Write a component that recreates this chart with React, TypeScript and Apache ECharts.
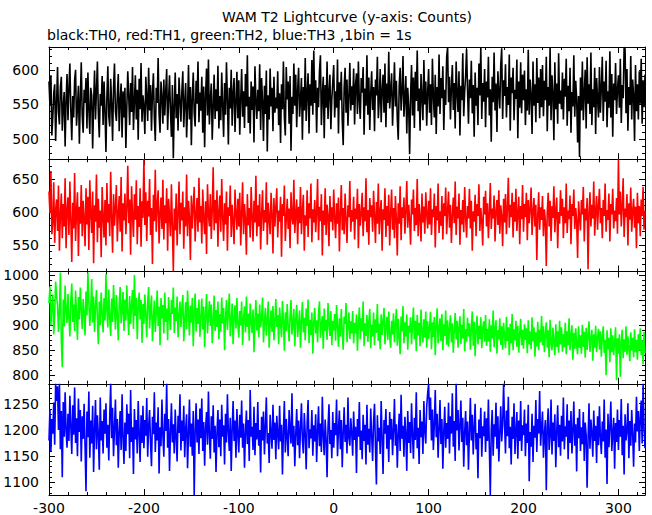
import React, { useEffect, useRef } from "react";
import * as echarts from "echarts";

// ---- data (counts per 1 s bin, starting at t = -300 s) ----
const T0 = -300;
const BIN = 1;

const th0Black = [
583,548,592,505,531,566,579,497,552,604,538,521,575,590,512,547,568,489,556,594,
527,573,609,541,498,562,531,585,600,519,546,577,493,558,611,534,509,571,552,588,
515,596,543,507,574,563,486,551,599,528,570,612,537,502,565,548,591,520,583,541,
481,560,605,533,518,587,552,497,574,609,540,526,563,594,511,556,580,502,569,531,
574,487,546,598,562,520,581,539,604,513,555,592,528,571,499,587,543,610,525,563,
548,507,590,559,526,603,541,578,512,566,595,531,497,574,552,617,536,509,583,561,
522,586,534,569,601,513,557,592,540,503,578,472,548,596,530,565,512,589,557,525,
569,598,517,553,581,502,544,607,528,575,491,560,596,537,518,584,551,612,524,567,
541,590,509,576,488,563,602,534,615,521,557,580,499,546,593,529,572,540,606,515,
562,527,596,548,503,581,535,611,557,492,574,544,600,519,566,588,510,553,597,530,
585,506,557,601,532,569,516,594,547,621,523,561,508,583,542,576,495,605,556,529,
571,540,608,513,588,555,497,577,536,599,482,563,528,602,547,574,511,590,538,560,
544,598,520,566,494,579,543,612,531,505,604,557,583,522,591,483,561,536,609,548,
593,517,570,603,532,556,588,499,575,541,617,526,566,595,508,579,548,614,535,628,
552,585,509,574,546,598,621,520,563,590,501,578,545,612,529,567,593,514,558,582,
607,531,569,545,615,508,582,556,597,527,491,574,603,538,586,519,562,610,541,576,
549,602,521,578,595,536,612,554,529,588,567,604,506,573,548,621,535,589,513,566,
598,542,575,511,586,563,619,530,557,601,524,571,593,538,609,517,580,552,626,544,
570,595,519,562,611,547,584,529,499,576,603,541,568,620,532,557,591,508,574,546,
478,563,607,534,589,516,597,555,628,540,573,512,594,561,527,614,550,583,519,568,
601,538,579,520,616,562,531,593,507,575,547,622,536,588,559,605,513,571,549,618,
633,553,590,528,574,607,542,581,515,612,566,539,598,505,577,556,624,533,569,591,
630,571,522,586,559,613,537,578,503,596,548,574,520,609,563,632,529,581,554,601,
517,583,560,619,534,572,496,590,553,625,541,580,510,598,566,544,607,631,529,585,
562,608,531,575,549,622,512,589,566,603,527,571,558,615,501,583,545,611,537,593,
556,599,520,572,541,629,535,586,563,507,612,548,579,524,617,552,589,530,601,546,
607,533,584,556,619,511,575,548,633,527,592,566,498,611,543,580,522,624,551,570,
543,596,528,587,561,616,519,577,540,603,509,568,547,621,532,584,558,495,562,474,
589,541,612,527,566,600,515,618,551,579,536,625,520,572,546,603,507,588,559,531,
604,538,574,619,526,583,554,613,517,569,545,627,531,594,503,580,556,610,536,571,
592,545,616,523,578,559,633,630,537,601,512,575,549,620,528,586,563,497,607,540,
579,528,598,551,616,522,585,546,593
];

const th1Red = [
631,598,662,566,584,645,553,603,619,571,640,541,596,628,560,612,578,651,545,604,
622,565,646,589,524,614,575,659,556,601,630,533,608,582,641,563,617,590,548,636,
581,623,542,648,596,568,631,522,610,585,657,554,620,576,602,531,638,593,561,618,
549,644,584,612,563,661,592,538,627,579,606,641,555,597,624,570,653,540,613,587,
628,566,607,670,583,619,535,639,595,562,627,588,648,551,609,577,636,547,616,591,
680,580,630,556,617,593,650,565,606,521,626,586,664,570,611,633,552,597,622,574,
649,558,610,583,636,541,620,594,563,642,579,510,605,572,628,549,598,646,566,614,
587,631,544,607,578,657,563,617,591,527,625,575,608,638,555,596,621,570,652,584,
609,552,634,590,566,616,536,642,597,578,627,559,603,668,572,618,583,633,547,601,
625,570,650,592,556,613,581,631,541,607,594,640,562,611,585,551,634,598,573,620,
578,629,549,598,645,566,612,588,535,627,580,606,561,638,593,555,617,584,655,563,
610,578,627,543,596,633,571,603,584,645,550,614,591,566,629,598,537,621,578,607,
636,561,602,585,623,532,612,594,640,556,590,620,574,605,545,630,592,581,649,568,
598,619,551,608,583,638,566,601,626,541,595,579,633,562,613,590,643,554,604,584,
618,569,599,650,557,608,586,627,534,602,580,636,565,611,594,548,624,585,607,572,
634,591,560,613,582,622,540,598,641,572,606,566,628,589,553,610,592,647,570,603,
585,623,558,605,589,635,545,612,579,598,629,563,607,586,651,569,603,550,621,592,
610,570,632,595,553,615,582,643,566,600,618,541,604,588,636,562,609,579,626,549,
598,634,573,606,560,624,590,534,613,582,639,557,607,591,622,567,601,647,576,611,
588,550,619,596,634,571,606,580,650,563,612,593,555,628,584,608,567,630,597,575,
617,581,636,565,604,592,628,546,609,587,643,568,601,579,624,558,613,594,637,566,
602,631,576,611,553,595,622,583,646,565,608,590,628,550,603,581,618,569,638,593,
561,609,590,635,575,617,541,601,585,626,563,612,594,642,571,606,587,549,623,596,
632,578,613,560,598,644,574,605,590,625,555,600,618,580,633,567,610,594,548,620,
584,627,566,606,652,576,611,592,629,561,615,585,635,571,598,623,551,609,589,641,
570,612,592,629,557,618,583,605,637,565,600,621,578,611,527,595,630,573,607,588,
624,563,604,586,518,599,629,578,617,556,609,591,639,569,602,622,545,600,582,633,
594,620,560,607,583,643,568,602,589,625,551,612,594,634,574,606,586,530,616,592,
572,618,596,638,555,605,587,621,513,599,630,578,611,590,646,564,601,624,573,609,
635,583,606,560,618,594,643,570,603,588,628,555,612,596,635,575,602,586,621,567,
680,596,631,578,609,651,562,605,592,627,549,613,588,637,570,601,620,576,608,545,
629,583,609,563,619,594,638,573,602
];

const th2Green = [
945,978,900,936,962,882,925,988,958,941,887,930,1006,870,816,952,898,980,929,905,
963,915,878,950,984,907,942,889,970,922,871,957,912,976,932,893,953,924,880,968,
920,1006,947,899,935,993,906,958,887,939,971,914,862,948,901,966,925,886,955,910,
1003,930,896,972,915,879,954,907,981,934,892,961,921,870,945,977,904,928,967,889,
952,910,980,924,881,959,903,941,971,893,1001,919,955,872,936,966,912,951,865,943,
903,962,920,876,948,977,894,931,960,868,912,950,887,925,970,899,938,860,955,914,
941,884,966,907,934,870,957,916,891,951,923,976,885,936,909,958,876,920,948,897,
932,961,868,910,947,893,970,921,880,940,906,955,858,922,964,888,935,903,952,877,
915,954,892,938,856,924,963,884,918,949,899,942,864,909,960,889,931,897,948,872,
922,888,956,904,935,850,914,951,891,926,964,878,908,944,862,916,940,894,955,902,
876,929,900,948,860,912,938,886,958,897,924,869,944,906,885,932,846,911,951,890,
923,876,942,896,914,956,866,905,935,880,913,948,855,901,930,887,939,870,909,953,
897,921,862,936,905,876,949,909,849,926,889,943,900,868,917,951,882,904,933,858,
913,941,877,902,930,855,908,947,886,915,870,934,899,952,864,911,881,926,843,906,
935,884,910,866,924,948,875,901,919,853,934,889,911,871,945,903,879,929,860,909,
890,923,869,941,899,857,914,878,933,889,851,918,903,945,866,897,926,873,908,884,
929,864,905,884,922,849,900,936,872,914,888,948,858,904,879,921,867,907,933,854,
901,878,926,860,912,885,943,869,903,852,922,881,908,935,862,897,917,871,928,879,
855,909,882,924,866,902,933,859,913,877,842,918,888,939,864,906,878,922,851,899,
886,916,862,901,936,872,909,848,921,880,905,858,932,887,866,912,876,928,855,908,
873,895,927,852,906,877,917,840,899,934,864,893,914,869,923,850,902,879,930,861,
910,857,894,920,866,904,845,890,925,872,909,855,896,918,863,901,874,933,848,892,
868,915,878,904,851,896,928,859,907,838,890,919,862,899,873,916,854,894,908,867,
921,859,893,868,912,847,900,874,930,856,895,910,843,890,872,914,861,898,851,905,
879,854,917,869,896,840,903,864,923,850,892,870,909,857,899,845,884,913,860,891,
853,902,871,894,844,910,862,888,852,916,868,896,837,886,858,907,850,891,866,919,
860,898,846,883,906,855,890,836,911,864,850,895,869,840,902,857,888,845,909,862,
896,847,882,856,905,842,888,860,914,850,878,900,831,885,853,894,860,842,898,855,
880,843,901,857,887,835,895,851,878,908,847,874,891,829,882,855,899,846,876,893,
851,888,837,877,898,845,871,800,890,852,875,826,894,846,880,840,868,896,790,874,
843,882,797,868,891,834,872,847,898,841,878,852,828,886,850,875,836,892,846,871,
831,882,849,894,840,870,822,887,844
];

const th3Blue = [
1180,1240,1160,1221,1193,1252,1172,1288,1255,1283,1200,1288,1163,1236,1110,1253,1187,1272,1198,1166,
1231,1179,1265,1206,1154,1247,1191,1281,1175,1222,1150,1260,1196,1238,1140,1226,1183,1250,1168,1083,
1235,1186,1273,1147,1218,1174,1246,1120,1201,1257,1163,1228,1190,1124,1262,1180,1217,1155,1239,1193,
1251,1166,1210,1142,1226,1288,1184,1242,1150,1203,1258,1171,1221,1128,1196,1236,1162,1268,1187,1135,
1214,1160,1249,1192,1231,1146,1276,1177,1205,1116,1240,1182,1219,1155,1255,1194,1139,1228,1175,1246,
1165,1219,1189,1261,1149,1207,1238,1174,1131,1225,1192,1272,1158,1214,1180,1243,1117,1205,1169,1258,
1190,1149,1231,1198,1288,1166,1221,1122,1195,1251,1176,1211,1155,1239,1186,1140,1227,1194,1268,1161,
1218,1179,1246,1148,1202,1230,1127,1193,1258,1168,1212,1151,1236,1076,1196,1251,1176,1220,1154,1241,
1184,1260,1160,1215,1132,1203,1234,1172,1273,1190,1145,1226,1183,1247,1157,1208,1120,1195,1238,1167,
1220,1150,1248,1187,1209,1134,1231,1176,1268,1196,1160,1223,1122,1201,1255,1179,1218,1147,1240,1191,
1157,1229,1185,1256,1166,1212,1128,1195,1237,1173,1219,1141,1276,1187,1206,1162,1244,1152,1213,1182,
1253,1170,1200,1119,1225,1180,1235,1153,1205,1262,1174,1194,1137,1229,1193,1164,1248,1181,1214,1144,
1227,1193,1163,1246,1178,1210,1115,1199,1255,1157,1221,1187,1150,1238,1200,1174,1270,1168,1208,1131,
1192,1240,1171,1218,1146,1204,1251,1180,1155,1232,1193,1125,1213,1257,1165,1201,1184,1238,1151,1209,
1178,1230,1139,1196,1245,1169,1212,1158,1263,1188,1152,1220,1182,1110,1205,1249,1173,1200,1146,1234,
1166,1213,1190,1258,1150,1201,1237,1163,1219,1129,1195,1243,1177,1210,1155,1262,1185,1170,1222,1194,
1151,1235,1181,1206,1118,1221,1187,1253,1162,1199,1144,1229,1179,1210,1134,1248,1172,1202,1157,1241,
1189,1141,1217,1250,1165,1096,1228,1178,1204,1154,1255,1184,1116,1219,1193,1240,1164,1209,1139,1234,
1182,1221,1152,1199,1259,1170,1211,1128,1192,1231,1160,1267,1183,1208,1149,1225,1193,1122,1236,1175,
1215,1156,1251,1191,1145,1223,1181,1272,1165,1204,1135,1238,1186,1216,1154,1255,1197,1174,1245,1270,
1288,1219,1262,1180,1239,1162,1210,1276,1186,1231,1147,1203,1257,1173,1221,1126,1197,1244,1166,1213,
1183,1252,1155,1226,1193,1270,1168,1217,1141,1288,1199,1238,1161,1208,1256,1177,1223,1130,1195,1236,
1171,1216,1124,1197,1261,1180,1229,1153,1205,1250,1163,1194,1108,1220,1184,1242,1149,1207,1188,1235,
1158,1222,1179,1258,1167,1076,1201,1238,1151,1211,1187,1252,1164,1226,1140,1195,1245,1178,1209,1288,
1216,1155,1237,1188,1263,1165,1206,1134,1225,1183,1251,1154,1198,1234,1145,1218,1179,1255,1160,1209,
1190,1239,1150,1212,1175,1248,1102,1196,1168,1231,1139,1208,1185,1257,1158,1221,1193,1274,1170,1203,
1235,1147,1192,1219,1085,1206,1241,1162,1188,1258,1153,1214,1179,1230,1129,1197,1247,1167,1210,1151,
1227,1178,1262,1163,1207,1187,1249,1144,1218,1175,1236,1155,1198,1254,1170,1211,1121,1223,1184,1240,
1160,1205,1173,1234,1141,1214,1190,1090,1182,1251,1164,1220,1195,1149,1237,1179,1208,1137,1226,1171,
1245,1186,1154,1216,1178,1258,1147,1201,1097,1231,1167,1206,1254,1160,1192,1223,1126,1213,1177,1239,
1162,1219,1187,1259,1152,1208,1115,1230,1180,1198,1251,1146,1217,1170,1238,1193,1130,1212,1176,1263,
1197,1236,1160,1222,1256,1174,1288,1205,1165
];

// ---- axes ----
const X_MIN = -300;
const X_MAX = 328;
const xMajorTicks = [-300, -200, -100, 0, 100, 200, 300];
const xMinorTicks = [
  -300, -280, -260, -240, -220, -200, -180, -160, -140, -120, -100, -80, -60, -40, -20,
  0, 20, 40, 60, 80, 100, 120, 140, 160, 180, 200, 220, 240, 260, 280, 300, 320,
];

const yMins = [470.6, 509.5, 783, 1076];
const yMaxs = [633, 680, 1008, 1288];
const yMajorTicks = [
  [500, 550, 600],
  [550, 600, 650],
  [800, 850, 900, 950, 1000],
  [1100, 1150, 1200, 1250],
];
const yMinorStep = 10;

const seriesNames = ["TH0", "TH1", "TH2", "TH3"];
const seriesColors = ["#000000", "#ff0000", "#00ff00", "#0000ff"];
const seriesData = [th0Black, th1Red, th2Green, th3Blue];

const titleText = "WAM T2 Lightcurve (y-axis: Counts)";
const subtitleText = "black:TH0, red:TH1, green:TH2, blue:TH3 ,1bin = 1s";

const FONT = "DejaVu Sans";

function minorList(min: number, max: number, step: number) {
  const out: number[] = [];
  for (let v = Math.ceil(min / step) * step; v <= max; v += step) out.push(v);
  return out;
}

export default function App() {
  const ref = useRef<HTMLDivElement>(null);

  useEffect(() => {
    if (!ref.current) return;
    const chart = echarts.init(ref.current, null, { renderer: "svg" });

    const W = 652;
    const left = 49;
    const right = 7;
    const top0 = 47;
    const panelH = 112.25;

    const grids: any[] = [];
    const xAxes: any[] = [];
    const yAxes: any[] = [];
    const series: any[] = [];

    const lineStyle = { color: "#000", width: 1 };
    const plain = (v: number) => String(v);

    for (let g = 0; g < 4; g++) {
      grids.push({ left, right, top: top0 + g * panelH, height: panelH, containLabel: false });

      const xBase = {
        gridIndex: g,
        type: "value",
        min: X_MIN,
        max: X_MAX,
        splitLine: { show: false },
        axisPointer: { show: false },
      };
      xAxes.push({
        ...xBase,
        position: "bottom",
        axisLine: { show: true, onZero: false, lineStyle },
        axisTick: { show: true, inside: true, length: 6, customValues: xMajorTicks, lineStyle },
        axisLabel: {
          show: g === 3,
          customValues: xMajorTicks,
          formatter: plain,
          color: "#000",
          fontFamily: FONT,
          fontSize: 14,
          margin: 6,
        },
      });
      xAxes.push({
        ...xBase,
        position: "bottom",
        axisLine: { show: false, onZero: false },
        axisTick: { show: true, inside: true, length: 3, customValues: xMinorTicks, lineStyle },
        axisLabel: { show: false },
      });
      xAxes.push({
        ...xBase,
        position: "top",
        axisLine: { show: true, onZero: false, lineStyle },
        axisTick: { show: true, inside: true, length: 6, customValues: xMajorTicks, lineStyle },
        axisLabel: { show: false },
      });
      xAxes.push({
        ...xBase,
        position: "top",
        axisLine: { show: false, onZero: false },
        axisTick: { show: true, inside: true, length: 3, customValues: xMinorTicks, lineStyle },
        axisLabel: { show: false },
      });

      const yBase = {
        gridIndex: g,
        type: "value",
        min: yMins[g],
        max: yMaxs[g],
        splitLine: { show: false },
        axisPointer: { show: false },
      };
      const minors = minorList(yMins[g], yMaxs[g], yMinorStep);
      yAxes.push({
        ...yBase,
        position: "left",
        axisLine: { show: true, onZero: false, lineStyle },
        axisTick: { show: true, inside: true, length: 6, customValues: yMajorTicks[g], lineStyle },
        axisLabel: {
          show: true,
          customValues: yMajorTicks[g],
          formatter: plain,
          color: "#000",
          fontFamily: FONT,
          fontSize: 14,
          margin: 10,
        },
      });
      yAxes.push({
        ...yBase,
        position: "left",
        axisLine: { show: false, onZero: false },
        axisTick: { show: true, inside: true, length: 3, customValues: minors, lineStyle },
        axisLabel: { show: false },
      });
      yAxes.push({
        ...yBase,
        position: "right",
        axisLine: { show: true, onZero: false, lineStyle },
        axisTick: { show: true, inside: true, length: 6, customValues: yMajorTicks[g], lineStyle },
        axisLabel: { show: false },
      });
      yAxes.push({
        ...yBase,
        position: "right",
        axisLine: { show: false, onZero: false },
        axisTick: { show: true, inside: true, length: 3, customValues: minors, lineStyle },
        axisLabel: { show: false },
      });

      const vals = seriesData[g];
      series.push({
        name: seriesNames[g],
        type: "line",
        xAxisIndex: g * 4,
        yAxisIndex: g * 4,
        data: vals.map((v, i) => [T0 + i * BIN, v]),
        showSymbol: false,
        symbol: "none",
        lineStyle: { color: seriesColors[g], width: 1.6 },
        itemStyle: { color: seriesColors[g] },
        clip: true,
        z: 1,
      });
    }

    const plotCenter = left + (W - left - right) / 2;

    chart.setOption({
      animation: false,
      backgroundColor: "#ffffff",
      grid: grids,
      xAxis: xAxes,
      yAxis: yAxes,
      series,
      graphic: [
        {
          type: "text",
          x: plotCenter,
          y: 17,
          style: {
            text: titleText,
            fill: "#000",
            font: `14px "${FONT}"`,
            textAlign: "center",
            textVerticalAlign: "middle",
          },
        },
        {
          type: "text",
          x: 47,
          y: 35,
          style: {
            text: subtitleText,
            fill: "#000",
            font: `14px "${FONT}"`,
            textAlign: "left",
            textVerticalAlign: "middle",
          },
        },
      ],
    });

    return () => chart.dispose();
  }, []);

  return (
    <div
      ref={ref}
      style={{ position: "fixed", left: 0, top: 0, width: 652, height: 515, background: "#fff" }}
    />
  );
}
